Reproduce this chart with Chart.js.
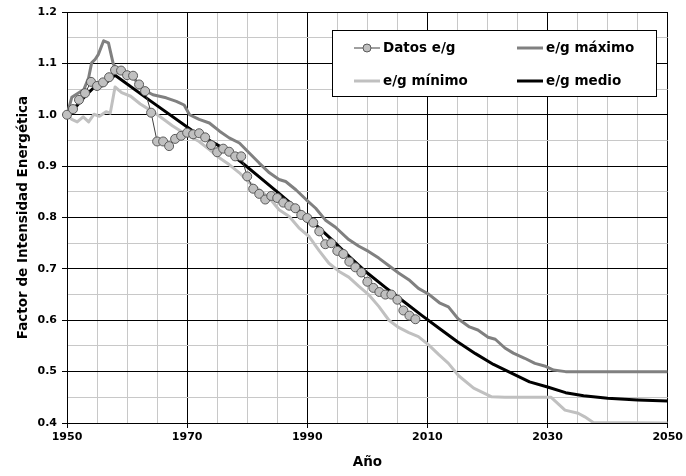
<!DOCTYPE html>
<html lang="es">
<head>
<meta charset="utf-8">
<title>Factor de Intensidad Energética</title>
<script src="https://cdn.jsdelivr.net/npm/chart.js@4/dist/chart.umd.min.js"></script>
<style>
  html, body { margin: 0; padding: 0; background: #fff; }
  #wrap { width: 686px; height: 476px; }
</style>
</head>
<body>
<div id="wrap"><canvas id="chart" width="686" height="476"></canvas></div>
<script>
// Datos históricos e/g (1950-2008)
const datosYears = [
  1950, 1951, 1952, 1953, 1954, 1955, 1956, 1957, 1958, 1959,
  1960, 1961, 1962, 1963, 1964, 1965, 1966, 1967, 1968, 1969,
  1970, 1971, 1972, 1973, 1974, 1975, 1976, 1977, 1978, 1979,
  1980, 1981, 1982, 1983, 1984, 1985, 1986, 1987, 1988, 1989,
  1990, 1991, 1992, 1993, 1994, 1995, 1996, 1997, 1998, 1999,
  2000, 2001, 2002, 2003, 2004, 2005, 2006, 2007, 2008
];
const datosValues = [
  1.000, 1.011, 1.029, 1.042, 1.064, 1.056, 1.063, 1.073, 1.087, 1.086,
  1.077, 1.076, 1.059, 1.046, 1.004, 0.948, 0.948, 0.939, 0.953, 0.959,
  0.965, 0.962, 0.964, 0.956, 0.941, 0.927, 0.934, 0.928, 0.919, 0.919,
  0.880, 0.856, 0.846, 0.835, 0.842, 0.838, 0.829, 0.823, 0.818, 0.805,
  0.799, 0.790, 0.773, 0.748, 0.750, 0.735, 0.729, 0.714, 0.703, 0.693,
  0.675, 0.663, 0.655, 0.650, 0.650, 0.640, 0.619, 0.609, 0.602
];

// e/g máximo
const maxYears = [
  1950, 1950.8, 1951.7, 1952.8, 1953.6, 1954.1, 1954.7, 1955.2, 1956.1, 1956.9,
  1957.7, 1958.5, 1960, 1961, 1962, 1963, 1964.3, 1966.5, 1968.2, 1969.5,
  1970.4, 1972, 1973.7, 1975.4, 1977, 1978.7, 1980.3, 1982, 1983.7, 1985.3,
  1986.4, 1988.1, 1989.8, 1991.4, 1993.1, 1994.7, 1996.9, 1998.6, 2000.2, 2001.9,
  2003.6, 2005.2, 2006.9, 2008.5, 2010.3, 2012, 2013.5, 2015.1, 2017, 2018.4,
  2020.1, 2021.3, 2022.9, 2024.3, 2026.2, 2027.9, 2029.5, 2031, 2033, 2050
];
const maxValues = [
  1.000, 1.034, 1.041, 1.049, 1.072, 1.101, 1.108, 1.117, 1.144, 1.140,
  1.099, 1.085, 1.078, 1.073, 1.058, 1.047, 1.039, 1.033, 1.026, 1.019,
  1.000, 0.991, 0.984, 0.968, 0.955, 0.945, 0.926, 0.906, 0.887, 0.874,
  0.870, 0.854, 0.835, 0.818, 0.794, 0.781, 0.757, 0.744, 0.734, 0.721,
  0.706, 0.692, 0.679, 0.662, 0.650, 0.634, 0.626, 0.603, 0.587, 0.581,
  0.567, 0.563, 0.546, 0.536, 0.526, 0.516, 0.511, 0.503, 0.500, 0.500
];

// e/g mínimo
const minYears = [
  1950, 1950.8, 1951.7, 1952.7, 1953.6, 1954.5, 1955.4, 1956.5, 1957.2, 1958,
  1959.1, 1960.6, 1962.2, 1963.7, 1965.4, 1967.6, 1969.9, 1972, 1973.7, 1975.4,
  1977, 1978.7, 1980.3, 1982, 1983.7, 1985.3, 1987, 1988.6, 1990.3, 1992,
  1993.6, 1995.3, 1996.9, 1998.6, 2000.2, 2001.9, 2003.6, 2005.2, 2006.9, 2008.5,
  2010.2, 2011.9, 2013.5, 2015.2, 2017.7, 2020.7, 2022.9, 2030.6, 2032.9, 2035.1,
  2036.2, 2037.6, 2050
];
const minValues = [
  1.000, 0.991, 0.986, 0.996, 0.986, 1.001, 0.997, 1.006, 1.003, 1.054,
  1.043, 1.036, 1.021, 1.010, 0.997, 0.978, 0.961, 0.948, 0.932, 0.916,
  0.903, 0.887, 0.868, 0.854, 0.838, 0.815, 0.802, 0.780, 0.763, 0.735,
  0.711, 0.695, 0.684, 0.666, 0.650, 0.627, 0.600, 0.586, 0.576, 0.568,
  0.552, 0.533, 0.516, 0.492, 0.468, 0.451, 0.450, 0.450, 0.425, 0.419,
  0.412, 0.401, 0.400
];

// e/g medio
const medioYears = [
  1950, 1951.6, 1953, 1954.4, 1956, 1958, 1964, 1971, 1975.4, 1979,
  1982, 1985, 1988, 1991, 1994, 1997, 2000, 2003, 2006, 2009,
  2012, 2015, 2018, 2021, 2024, 2027, 2030, 2033, 2036, 2040,
  2045, 2050
];
const medioValues = [
  1.000, 1.017, 1.036, 1.052, 1.057, 1.077, 1.026, 0.968, 0.939, 0.908,
  0.879, 0.850, 0.820, 0.790, 0.758, 0.724, 0.692, 0.664, 0.637, 0.610,
  0.584, 0.558, 0.535, 0.514, 0.497, 0.480, 0.470, 0.459, 0.453, 0.448,
  0.445, 0.443
];

const X_MIN = 1950, X_MAX = 2050, X_STEP = 5, X_MAJOR = 20;
const Y_MIN = 0.4, Y_MAX = 1.2, Y_STEP = 0.05, Y_MAJOR = 0.1;

const FONT = "'DejaVu Sans', 'Liberation Sans', Arial, sans-serif";
const GRID_MAJOR = "#000000";
const GRID_MINOR = "#c8c8c8";

const pts = (xs, ys) => xs.map((x, i) => ({ x, y: ys[i] }));
const isMajorX = (v) => Math.abs((v - X_MIN) % X_MAJOR) < 1e-6;
const isMajorY = (v) => Math.abs(v / Y_MAJOR - Math.round(v / Y_MAJOR)) < 1e-6;

// leyenda dibujada dentro del área del gráfico (como el original)
const legendBox = {
  id: "legendBox",
  afterDatasetsDraw(chart) {
    const ctx = chart.ctx;
    const ds = chart.data.datasets;
    const box = { x: 332.5, y: 30.5, w: 324, h: 66 };
    ctx.save();
    ctx.fillStyle = "#fff";
    ctx.fillRect(box.x, box.y, box.w, box.h);
    ctx.strokeStyle = "#000";
    ctx.lineWidth = 1;
    ctx.strokeRect(box.x, box.y, box.w, box.h);

    const cols = [354, 517];
    const rows = [48, 81];
    const order = [0, 1, 2, 3]; // Datos, máximo / mínimo, medio
    order.forEach((idx, k) => {
      const d = ds[idx];
      const x0 = cols[k % 2], y0 = rows[Math.floor(k / 2)];
      ctx.beginPath();
      ctx.moveTo(x0, y0);
      ctx.lineTo(x0 + 26, y0);
      ctx.strokeStyle = d.borderColor;
      ctx.lineWidth = d.borderWidth;
      ctx.stroke();
      if (d.pointRadius > 0) {
        ctx.beginPath();
        ctx.arc(x0 + 13, y0, 4, 0, Math.PI * 2);
        ctx.fillStyle = d.pointBackgroundColor;
        ctx.fill();
        ctx.lineWidth = 1;
        ctx.strokeStyle = d.pointBorderColor;
        ctx.stroke();
      }
      ctx.fillStyle = "#000";
      ctx.font = "bold 13.5px " + FONT;
      ctx.textBaseline = "middle";
      ctx.textAlign = "left";
      ctx.fillText(d.label, x0 + 29, y0 + 0.5);
    });
    ctx.restore();
  }
};

const chart = new Chart(document.getElementById("chart"), {
  type: "line",
  data: {
    datasets: [
      {
        label: "Datos e/g",
        data: pts(datosYears, datosValues),
        borderColor: "#404040",
        borderWidth: 1,
        pointRadius: 4.5,
        pointBackgroundColor: "#c0c0c0",
        pointBorderColor: "#5a5a5a",
        pointBorderWidth: 1,
        clip: false
      },
      {
        label: "e/g máximo",
        data: pts(maxYears, maxValues),
        borderColor: "#808080",
        borderWidth: 3,
        pointRadius: 0
      },
      {
        label: "e/g mínimo",
        data: pts(minYears, minValues),
        borderColor: "#c0c0c0",
        borderWidth: 3,
        pointRadius: 0
      },
      {
        label: "e/g medio",
        data: pts(medioYears, medioValues),
        borderColor: "#000000",
        borderWidth: 3,
        pointRadius: 0
      }
    ]
  },
  options: {
    responsive: false,
    animation: false,
    devicePixelRatio: 1,
    layout: { padding: { top: 12, right: 17, bottom: 0, left: 0 } },
    elements: { line: { tension: 0, fill: false, borderJoinStyle: "round" } },
    plugins: { legend: { display: false }, tooltip: { enabled: false } },
    scales: {
      x: {
        type: "linear",
        min: X_MIN, max: X_MAX,
        afterFit: (s) => { s.height = 53; },
        border: { color: "#000", width: 1 },
        grid: {
          color: (c) => isMajorX(c.tick.value) ? GRID_MAJOR : GRID_MINOR,
          tickColor: (c) => isMajorX(c.tick.value) ? GRID_MAJOR : "rgba(0,0,0,0)",
          tickLength: 5
        },
        ticks: {
          stepSize: X_STEP,
          autoSkip: false,
          maxRotation: 0,
          padding: 3,
          color: "#000",
          font: { family: FONT, size: 11, weight: "bold" },
          callback: (v) => isMajorX(v) ? String(v) : ""
        },
        title: {
          display: true,
          text: "Año",
          color: "#000",
          font: { family: FONT, size: 13.5, weight: "bold" },
          padding: { top: 0, bottom: 5 }
        }
      },
      y: {
        min: Y_MIN, max: Y_MAX,
        afterFit: (s) => { s.width = 67; },
        border: { color: "#000", width: 1 },
        grid: {
          color: (c) => isMajorY(c.tick.value) ? GRID_MAJOR : GRID_MINOR,
          tickColor: (c) => isMajorY(c.tick.value) ? GRID_MAJOR : "rgba(0,0,0,0)",
          tickLength: 5
        },
        ticks: {
          stepSize: Y_STEP,
          autoSkip: false,
          padding: 5,
          color: "#000",
          font: { family: FONT, size: 11, weight: "bold" },
          callback: (v) => isMajorY(v) ? v.toFixed(1) : ""
        },
        title: {
          display: true,
          text: "Factor de Intensidad Energética",
          color: "#000",
          font: { family: FONT, size: 13.5, weight: "bold" },
          padding: { top: 15, bottom: 0 }
        }
      }
    }
  },
  plugins: [legendBox]
});
</script>
</body>
</html>
